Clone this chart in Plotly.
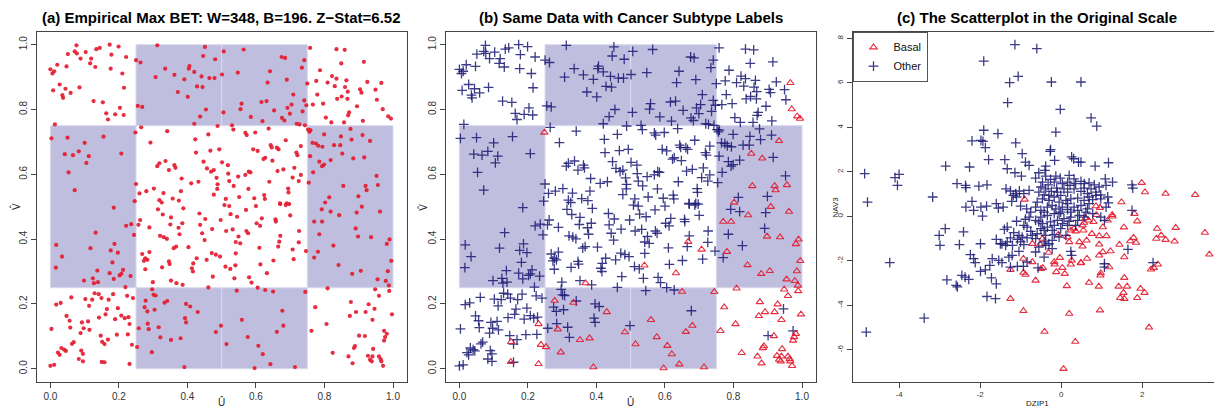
import plotly.graph_objects as go

# ---------------- Panel (a)/(b): copula-scale data ----------------
other_u = [0.076,0.071,0.051,0.077,0.088,0.103,0.134,0.144,0.173,0.199,0.178,0.221,0.119,0.116,0.131,0.020,0.047,0.000,0.011,0.006,0.176,0.210,0.027,0.044,0.008,0.059,0.035,0.037,0.085,0.215,0.126,0.153,0.203,0.163,0.189,0.214,0.168,0.013,
 0.312,0.451,0.446,0.481,0.250,0.263,0.335,0.406,0.404,0.420,0.307,0.362,0.391,0.441,0.464,0.479,0.428,0.444,0.372,0.401,0.255,0.268,0.454,0.437,0.420,0.488,
 0.003,0.050,0.155,0.100,0.042,0.066,0.083,0.112,0.105,0.207,0.053,0.071,
 0.265,0.341,0.461,0.423,0.292,0.467,0.425,0.447,0.318,0.312,0.336,0.362,0.365,0.346,0.457,0.469,0.477,0.485,0.383,0.411,0.432,0.488,0.250,0.487,0.302,0.280,0.260,0.381,0.330,0.477,0.357,0.318,0.325,0.375,0.246,
 0.506,0.564,0.675,0.685,0.741,0.758,0.501,0.547,0.641,0.734,0.690,0.634,0.750,0.709,0.616,0.631,0.558,0.555,0.741,0.704,0.692,0.747,0.653,0.699,0.736,0.505,0.585,0.676,0.683,0.619,0.719,0.727,
 0.835,0.859,0.849,0.915,0.787,0.822,0.835,0.864,0.776,0.809,0.830,0.860,0.925,0.904,0.908,0.949,0.868,0.850,0.837,0.867,0.779,0.953,0.796,0.766,0.895,0.872,0.869,0.804,0.857,0.912,0.820,
 0.530,0.534,0.569,0.573,0.598,0.637,0.743,0.752,0.759,0.687,0.493,0.643,0.646,0.661,0.666,0.592,0.605,0.731,0.718,0.721,0.627,0.622,0.648,0.501,0.518,0.712,0.663,0.680,0.579,0.584,0.519,0.548,0.569,0.731,0.707,0.725,0.522,0.639,0.535,0.578,0.694,0.695,0.624,0.626,0.595,0.551,0.512,0.670,0.690,
 0.756,0.799,0.848,0.876,0.911,0.765,0.775,0.782,0.794,0.828,0.846,0.879,0.916,0.758,0.818,0.785,0.793,0.799,0.767,0.754,0.952,0.899,0.814,
 0.185,0.221,0.236,0.244,0.132,0.017,0.117,0.187,0.176,0.197,0.034,0.181,0.016,0.137,0.212,0.207,0.202,0.173,0.234,0.098,0.124,0.127,0.139,0.185,
 0.257,0.262,0.289,0.314,0.328,0.352,0.350,0.388,0.385,0.374,0.377,0.435,0.452,0.437,0.443,0.472,0.450,0.320,0.331,0.340,0.360,0.367,0.403,0.289,0.268,0.277,0.273,0.283,0.346,0.348,0.326,0.277,0.417,0.413,0.416,0.427,0.456,0.471,0.483,0.474,0.299,0.352,0.386,0.461,0.219,
 0.129,0.141,0.149,0.061,0.183,0.224,0.241,0.102,0.122,0.170,0.017,0.030,0.113,0.165,0.197,0.161,0.047,0.207,0.217,0.228,0.142,0.056,0.110,0.092,0.189,0.003,0.058,0.097,0.114,0.088,0.147,0.194,0.226,0.168,0.158,0.063,0.068,0.032,0.040,0.045,0.022,0.027,0.090,0.095,0.083,0.095,0.158,0.000,0.011,
 0.297,0.301,0.307,0.275,0.283,0.304,0.341,0.396,0.408,0.393,0.396,0.258,0.284,0.316,0.321,
 0.508,0.522,0.600,0.571,0.671,0.687,0.697,0.526,0.545,0.497,0.617,0.657,0.658,0.700,0.602,0.612,0.513,0.532,0.572,0.577,0.549,0.541,0.554,0.671,0.665,0.726,0.725,0.610,0.746,0.495,0.541,0.651,0.710,0.613,0.511,0.525,0.537,0.580,0.587,0.605,0.627,0.544,
 0.792,0.818,0.894,0.785,0.891,0.826,0.770,
 0.677,0.498,
 0.946,0.974,0.901]
other_v = [0.998,0.979,0.971,0.973,0.957,0.977,0.986,0.990,1.000,0.994,0.969,0.962,0.957,0.942,0.931,0.938,0.933,0.924,0.918,0.911,0.926,0.911,0.877,0.864,0.859,0.851,0.844,0.836,0.868,0.867,0.826,0.822,0.805,0.788,0.785,0.783,0.769,0.754,
 0.998,0.993,0.965,0.955,0.952,0.945,0.926,0.934,0.926,0.916,0.900,0.907,0.893,0.902,0.897,0.897,0.871,0.869,0.854,0.839,0.811,0.808,0.800,0.778,0.756,0.749,
 0.711,0.713,0.716,0.697,0.662,0.659,0.671,0.656,0.635,0.664,0.606,0.551,
 0.745,0.733,0.723,0.708,0.698,0.673,0.667,0.639,0.634,0.625,0.641,0.628,0.620,0.613,0.618,0.608,0.613,0.589,0.587,0.572,0.577,0.569,0.570,0.555,0.556,0.548,0.541,0.548,0.542,0.537,0.525,0.520,0.513,0.519,0.517,
 0.979,0.985,0.962,0.959,0.952,0.990,0.908,0.914,0.918,0.929,0.892,0.883,0.880,0.846,0.823,0.826,0.818,0.801,0.828,0.815,0.805,0.813,0.797,0.787,0.794,0.791,0.777,0.774,0.766,0.764,0.756,0.754,
 0.986,0.984,0.942,0.947,0.921,0.903,0.895,0.890,0.888,0.883,0.872,0.869,0.885,0.862,0.852,0.861,0.855,0.840,0.833,0.833,0.846,0.830,0.818,0.815,0.810,0.791,0.782,0.775,0.760,0.765,0.760,
 0.751,0.738,0.728,0.721,0.729,0.741,0.751,0.738,0.736,0.705,0.677,0.690,0.683,0.682,0.677,0.677,0.672,0.687,0.667,0.659,0.651,0.647,0.642,0.637,0.628,0.620,0.610,0.615,0.608,0.606,0.602,0.593,0.598,0.598,0.590,0.579,0.579,0.577,0.564,0.555,0.556,0.544,0.536,0.524,0.526,0.530,0.524,0.510,0.510,
 0.731,0.723,0.717,0.740,0.721,0.697,0.695,0.688,0.685,0.690,0.690,0.707,0.652,0.656,0.644,0.639,0.625,0.630,0.606,0.574,0.595,0.532,0.529,
 0.497,0.441,0.446,0.413,0.420,0.382,0.372,0.385,0.365,0.358,0.346,0.328,0.312,0.303,0.305,0.293,0.288,0.295,0.286,0.272,0.279,0.264,0.267,0.277,
 0.444,0.459,0.436,0.492,0.476,0.467,0.445,0.495,0.449,0.435,0.415,0.479,0.462,0.444,0.418,0.431,0.397,0.410,0.406,0.401,0.372,0.377,0.375,0.360,0.354,0.341,0.333,0.336,0.331,0.323,0.313,0.307,0.325,0.310,0.300,0.341,0.336,0.357,0.352,0.284,0.267,0.272,0.259,0.251,0.252,
 0.233,0.230,0.218,0.220,0.230,0.225,0.218,0.215,0.213,0.213,0.198,0.203,0.194,0.184,0.187,0.168,0.163,0.164,0.156,0.159,0.158,0.148,0.146,0.143,0.153,0.123,0.127,0.125,0.120,0.110,0.102,0.105,0.106,0.090,0.076,0.077,0.082,0.064,0.059,0.055,0.050,0.043,0.056,0.046,0.030,0.023,0.020,0.009,0.012,
 0.245,0.228,0.226,0.190,0.177,0.182,0.209,0.200,0.192,0.156,0.143,0.125,0.139,0.128,0.097,
 0.505,0.502,0.502,0.490,0.508,0.505,0.508,0.477,0.469,0.459,0.464,0.461,0.454,0.473,0.449,0.441,0.425,0.430,0.425,0.418,0.408,0.391,0.387,0.410,0.377,0.425,0.390,0.373,0.363,0.346,0.356,0.334,0.338,0.322,0.315,0.308,0.279,0.282,0.266,0.250,0.243,0.241,
 0.492,0.485,0.482,0.415,0.433,0.380,0.343,
 0.179,0.133,
 0.185,0.117,0.102]

basal_u = [0.248,0.966,0.970,0.986,0.994,0.933,0.852,0.884,0.855,0.920,0.923,0.956,0.802,
 0.368,0.231,0.151,0.238,0.253,0.150,0.231,0.278,0.333,0.430,0.287,0.352,0.380,0.483,0.296,0.391,
 0.668,0.707,0.540,0.632,0.650,0.744,
 0.909,0.843,0.962,0.770,0.793,0.898,0.936,0.990,0.982,0.781,0.995,0.841,0.881,0.906,0.985,0.955,0.979,0.988,0.809,
 0.559,0.680,0.661,0.576,0.514,0.607,0.620,0.642,0.596,0.714,
 0.948,0.989,0.959,0.877,0.929,0.773,0.892,0.920,0.874,0.997,0.940,0.806,0.762,0.982,0.918,0.977,0.974,0.889,0.886,0.942,0.824,0.870,0.927,0.940,0.933,0.938,0.959,0.964,0.966,0.882,0.971]
basal_v = [0.729,0.882,0.801,0.779,0.772,0.703,0.664,0.649,0.564,0.564,0.551,0.567,0.513,
 0.264,0.138,0.083,0.074,0.067,0.021,0.015,0.210,0.204,0.175,0.122,0.089,0.094,0.113,0.051,0.005,
 0.392,0.368,0.319,0.295,0.238,0.237,
 0.500,0.474,0.485,0.454,0.454,0.408,0.406,0.399,0.385,0.361,0.333,0.320,0.293,0.302,0.301,0.276,0.271,0.257,0.248,
 0.151,0.133,0.114,0.098,0.076,0.071,0.045,0.014,0.002,0.005,
 0.245,0.240,0.225,0.206,0.199,0.190,0.175,0.175,0.163,0.168,0.151,0.138,0.117,0.108,0.101,0.098,0.087,0.070,0.064,0.061,0.049,0.038,0.040,0.038,0.028,0.023,0.038,0.030,0.023,0.017,0.009]

# BET partition: highlighted cells (u-range, v-range)
bet_cells = [((0.25, 0.50), (0.75, 1.00)), ((0.50, 0.75), (0.75, 1.00)),
             ((0.00, 0.25), (0.25, 0.75)), ((0.75, 1.00), (0.25, 0.75)),
             ((0.25, 0.50), (0.00, 0.25)), ((0.50, 0.75), (0.00, 0.25))]
unit_ticks = [0.0, 0.2, 0.4, 0.6, 0.8, 1.0]

# ---------------- Panel (c): original scale ----------------
oth_x = [-1.14,-1.91,-1.06,-1.27,-1.32,-1.91,-1.56,-2.20,-1.98,-1.93,-1.87,-1.12,
 -0.60,-0.24,0.49,-0.02,0.74,0.88,-0.13,-0.26,
 -0.96,-1.79,-1.39,-1.33,-0.88,-0.79,-4.85,-4.10,-4.00,-4.04,-2.85,-2.26,-1.14,-0.98,-2.57,-2.36,-2.35,-2.03,-1.83,-1.36,-1.25,-1.12,-1.03,-0.92,-0.79,-1.18,-1.10,-3.17,-4.78,-2.20,-2.35,-2.16,-1.98,-1.84,-1.60,-1.55,-1.43,-1.22,-1.00,-0.85,-0.75,-0.79,-1.94,-1.10,-0.88,-0.92,-0.84,-2.86,-1.33,-1.40,-0.75,-2.41,-3.01,-1.17,-1.04,-0.96,-1.25,-1.08,-1.00,-1.33,-1.46,-1.20,-0.84,-0.71,-1.60,-1.50,-1.37,-0.92,-1.99,-2.51,-2.99,-1.04,-1.21,-1.29,-2.24,-2.16,-2.12,-1.70,-1.54,-1.46,-4.23,
 -0.27,-0.16,0.26,0.31,0.43,0.49,0.84,1.17,-0.38,-0.40,-0.55,-0.63,-0.38,-0.26,-0.13,-0.02,-0.46,-0.32,-0.17,-0.50,-0.38,-0.24,-0.11,0.03,0.16,0.20,0.32,0.49,0.57,0.69,0.82,0.94,1.11,1.27,0.74,0.86,0.98,0.65,0.49,0.32,0.16,-0.01,-0.17,-0.30,-0.46,-0.59,-0.63,-0.50,-0.34,-0.22,-0.05,0.12,0.24,0.41,0.57,0.78,0.98,1.15,1.17,1.11,0.69,0.49,0.32,0.16,-0.01,-0.17,-0.34,-0.50,-0.63,-0.46,-0.26,-0.09,0.07,0.24,0.45,0.61,0.78,0.98,1.07,0.36,0.16,-0.01,-0.22,-0.42,-0.59,-0.63,-0.42,-0.22,-0.05,0.12,-0.55,-0.38,-0.22,-0.63,-0.42,0.24,0.26,1.65,1.75,1.77,1.09,1.75,2.27,1.07,
 -0.55,-0.42,-0.30,-0.09,0.07,0.22,0.36,0.57,0.69,0.86,0.16,0.03,-0.13,-0.42,-0.55,-0.34,-0.17,0.03,0.20,0.41,0.57,-0.38,-0.17,-0.30,-0.50,-0.05,0.24,0.41,0.65,
 -1.76,-1.25,-1.08,-0.93,-0.84,-1.99,-1.87,-2.45,-2.37,-2.28,-2.82,-1.72,-1.60,-2.59,-2.56,-1.83,-1.62,-3.38,-4.81,
 -0.57,1.07]
oth_y = [7.72,6.98,6.29,6.01,5.11,3.87,3.72,3.39,3.42,3.37,3.09,3.30,
 7.54,6.04,6.04,4.81,4.43,4.06,3.79,3.00,
 2.82,2.55,2.55,2.14,2.44,2.29,1.92,1.74,1.89,1.39,2.26,2.22,1.96,1.81,1.47,1.39,1.29,1.36,1.42,1.24,1.14,1.02,1.14,1.02,1.17,0.94,0.87,0.87,0.64,0.67,0.42,0.27,0.42,0.46,0.57,0.37,0.42,0.67,0.46,0.34,0.19,-0.03,0.01,-0.22,-0.13,-0.40,-0.48,-0.55,-0.48,-0.58,-0.67,-0.70,-0.85,-0.73,-0.85,-0.93,-0.97,-1.03,-1.15,-1.15,-1.23,-1.30,-0.97,-0.85,-1.03,-1.23,-1.30,-1.27,-1.23,-1.27,-1.30,-1.57,-1.75,-1.83,-1.72,-1.90,-2.08,-1.90,-1.98,-2.08,-2.08,
 2.92,2.52,2.67,2.59,2.44,2.44,2.26,2.41,2.26,2.07,1.96,1.72,1.81,1.66,1.81,1.72,1.54,1.42,1.54,1.32,1.24,1.12,1.27,1.47,1.54,1.84,1.69,1.57,1.47,1.51,1.42,1.32,1.39,1.54,1.24,1.09,0.97,1.02,1.12,1.24,1.09,0.94,0.87,0.72,0.79,0.64,0.42,0.27,0.42,0.49,0.64,0.72,0.79,0.82,0.72,0.75,0.79,0.87,0.61,0.42,0.57,0.49,0.42,0.31,0.19,0.12,0.04,-0.03,-0.18,-0.33,-0.25,-0.18,-0.10,-0.03,0.04,0.19,0.12,-0.03,-0.18,-0.40,-0.40,-0.55,-0.63,-0.63,-0.78,-1.00,-1.15,-1.08,-0.93,-0.85,-1.38,-1.30,-1.45,-1.60,-1.83,-1.57,-1.75,-1.48,1.42,1.27,1.69,0.27,-2.08,-2.13,
 1.09,0.97,0.94,1.09,1.24,1.39,1.47,1.27,0.87,0.94,0.57,0.42,0.34,0.19,-0.25,-0.48,-0.40,-0.33,-0.22,-0.18,-0.03,-0.85,-0.82,-1.23,-0.55,0.12,0.19,0.27,0.34,
 -2.20,-2.28,-2.25,-2.25,-2.05,-2.47,-2.40,-2.65,-2.73,-2.83,-2.85,-2.76,-3.03,-3.10,-3.17,-3.60,-3.70,-4.57,-5.20,
 -2.31,-2.28]

bas_x = [-0.90,-0.71,-0.93,-0.71,
 1.99,2.07,2.58,3.31,1.49,0.86,0.96,1.81,0.87,1.26,1.27,0.61,0.68,0.57,0.53,0.80,1.03,1.15,1.88,1.55,0.32,0.24,0.36,0.55,0.76,0.94,1.12,2.37,2.83,3.55,-0.07,0.16,0.20,-0.46,-0.52,2.47,2.35,2.58,2.80,1.79,1.71,1.85,0.45,0.63,0.94,1.44,0.53,1.22,1.03,0.94,1.56,-0.31,-0.03,0.26,0.49,0.64,3.66,-0.17,
 -1.25,-0.93,-0.88,-1.25,-0.93,
 -0.50,-0.45,-0.63,-0.16,0.03,-0.12,0.09,0.24,0.49,1.19,0.98,0.97,1.56,2.39,2.22,2.29,0.14,0.69,0.93,1.42,1.63,1.54,1.46,1.56,1.96,2.06,1.88,0.20,0.96,-0.41,0.35,2.17,0.06]
bas_y = [0.76,-1.23,-1.90,-2.05,
 1.51,1.09,1.02,0.97,0.64,0.46,0.39,0.12,0.07,0.07,0.00,-0.07,-0.18,-0.28,-0.40,-0.25,-0.48,-0.18,-0.22,-0.49,-0.55,-0.63,-0.67,-0.63,-0.78,-0.88,-0.88,-0.55,-0.51,-0.73,-0.82,-0.93,-1.15,-1.00,-1.26,-0.85,-1.00,-1.05,-1.12,-0.96,-1.11,-1.18,-1.15,-1.08,-1.26,-1.27,-1.35,-1.56,-1.60,-1.75,-1.83,-1.63,-1.86,-1.98,-2.08,-1.90,-1.71,-2.05,
 -2.40,-2.53,-2.62,-3.70,-4.25,
 -2.36,-2.31,-2.88,-2.16,-2.31,-2.50,-2.58,-2.16,-2.10,-2.28,-2.55,-2.65,-2.76,-2.16,-2.38,-2.31,-3.13,-2.98,-3.15,-3.15,-3.15,-3.43,-3.66,-3.70,-3.25,-3.43,-3.66,-4.37,-4.22,-5.18,-5.63,-4.99,-6.85]

c_xticks = [-4, -2, 0, 2]
c_yticks = [-6, -4, -2, 0, 2, 4, 6, 8]

titles = ["(a) Empirical Max BET: W=348, B=196. Z\u2212Stat=6.52",
          "(b) Same Data with Cancer Subtype Labels",
          "(c) The Scatterplot in the Original Scale"]

# ---------------- styling ----------------
# the page body has an 8px margin, so the figure is sized to fill the rest of the window
OFF = 8
W, H = 1222 - OFF, 413 - OFF
FONT = "Liberation Sans, Arial, Helvetica, sans-serif"
RED = "rgba(228,28,48,0.92)"
NAVY = "rgba(25,25,115,0.85)"
SHADE = "#c0bedf"
AX = "#444444"

def px_x(p):
    return (p - OFF) / W

def px_y(p):
    return 1 - (p - OFF) / H

frame_top, frame_bot = 31.7, 381.7
doms = [(36.7, 406.7), (445.7, 815.7), (852.5, 1221.5)]
ydom = [px_y(frame_bot), px_y(frame_top)]

fig = go.Figure()

# panel (a)
fig.add_trace(go.Scatter(x=other_u + basal_u, y=other_v + basal_v, mode="markers",
                         marker=dict(symbol="circle", size=4.2, color=RED, line=dict(width=0)),
                         xaxis="x", yaxis="y", showlegend=False, hoverinfo="skip"))
# panel (b)
fig.add_trace(go.Scatter(x=other_u, y=other_v, mode="markers",
                         marker=dict(symbol="cross-thin-open", size=7, color=NAVY, line=dict(width=1.3, color=NAVY)),
                         xaxis="x2", yaxis="y2", showlegend=False, hoverinfo="skip"))
fig.add_trace(go.Scatter(x=basal_u, y=basal_v, mode="markers",
                         marker=dict(symbol="triangle-up-open", size=6.5, color=RED, line=dict(width=1.1, color=RED)),
                         xaxis="x2", yaxis="y2", showlegend=False, hoverinfo="skip"))
# panel (c)
fig.add_trace(go.Scatter(x=bas_x, y=bas_y, mode="markers", name="Basal",
                         marker=dict(symbol="triangle-up-open", size=6.5, color=RED, line=dict(width=1.1, color=RED)),
                         xaxis="x3", yaxis="y3", hoverinfo="skip"))
fig.add_trace(go.Scatter(x=oth_x, y=oth_y, mode="markers", name="Other",
                         marker=dict(symbol="cross-thin-open", size=7, color=NAVY, line=dict(width=1.3, color=NAVY)),
                         xaxis="x3", yaxis="y3", hoverinfo="skip"))

shapes = []
for xr, yr in (("x", "y"), ("x2", "y2")):
    for (u0, u1), (v0, v1) in bet_cells:
        shapes.append(dict(type="rect", xref=xr, yref=yr, x0=u0, x1=u1, y0=v0, y1=v1,
                           fillcolor=SHADE, line=dict(color="#d9d8ec", width=1), layer="below"))

def axis_common():
    return dict(showline=True, mirror=True, linecolor=AX, linewidth=1,
                ticks="outside", ticklen=5, tickcolor=AX, tickwidth=1,
                showgrid=False, zeroline=False,
                tickfont=dict(family=FONT, size=10, color="#333333"))

layout = dict(width=W, height=H, margin=dict(l=0, r=0, t=0, b=0),
              paper_bgcolor="white", plot_bgcolor="white", shapes=shapes,
              font=dict(family=FONT))

urange = [-0.04, 1.04]
for i, (xa, ya) in enumerate((("xaxis", "yaxis"), ("xaxis2", "yaxis2"))):
    d0, d1 = doms[i]
    anchor_x = "y" if i == 0 else "y2"
    anchor_y = "x" if i == 0 else "x2"
    layout[xa] = dict(axis_common(), domain=[px_x(d0), px_x(d1)], range=urange,
                      tickvals=unit_ticks, ticktext=[f"{t:.1f}" for t in unit_ticks], anchor=anchor_x)
    layout[ya] = dict(axis_common(), domain=ydom, range=urange, tickangle=-90,
                      tickvals=unit_ticks, ticktext=[f"{t:.1f}" for t in unit_ticks], anchor=anchor_y)

layout["xaxis3"] = dict(axis_common(), domain=[px_x(doms[2][0]), px_x(doms[2][1])],
                        range=[-5.15, 3.96], tickvals=c_xticks, ticktext=[str(t) for t in c_xticks], anchor="y3",
                        tickfont=dict(family=FONT, size=8, color="#333333"))
layout["yaxis3"] = dict(axis_common(), domain=ydom, range=[-7.43, 8.30], tickangle=-90,
                        tickvals=c_yticks, ticktext=[str(t) for t in c_yticks], anchor="x3",
                        tickfont=dict(family=FONT, size=8, color="#333333"))

layout["legend"] = dict(x=px_x(doms[2][0]), y=ydom[1], xanchor="left", yanchor="top",
                        bgcolor="white", bordercolor="#555555", borderwidth=1,
                        font=dict(family=FONT, size=11, color="#111111"),
                        itemwidth=30, tracegroupgap=0)

ann = []
centers = [(d0 + d1) / 2 for d0, d1 in doms]
for c, t in zip(centers, titles):
    ann.append(dict(x=px_x(c), y=px_y(17), xref="paper", yref="paper", text=f"<b>{t}</b>",
                    showarrow=False, font=dict(family=FONT, size=15, color="black"),
                    xanchor="center", yanchor="middle"))
for i in range(2):
    ann.append(dict(x=px_x(centers[i]), y=px_y(402), xref="paper", yref="paper", text="\u00db",
                    showarrow=False, font=dict(family=FONT, size=10, color="#222"), xanchor="center", yanchor="middle"))
    ann.append(dict(x=px_x(max(doms[i][0] - 23, 15)), y=px_y(207), xref="paper", yref="paper", text="V\u0302",
                    showarrow=False, textangle=-90, font=dict(family=FONT, size=10, color="#222"),
                    xanchor="center", yanchor="middle"))
ann.append(dict(x=px_x(centers[2]), y=px_y(403), xref="paper", yref="paper", text="DZIP1",
                showarrow=False, font=dict(family=FONT, size=8, color="#222"), xanchor="center", yanchor="middle"))
ann.append(dict(x=px_x(doms[2][0] - 18), y=px_y(207), xref="paper", yref="paper", text="NAV3",
                showarrow=False, textangle=-90, font=dict(family=FONT, size=8, color="#222"),
                xanchor="center", yanchor="middle"))
layout["annotations"] = ann

fig.update_layout(**layout)
fig.write_html("out.html")
